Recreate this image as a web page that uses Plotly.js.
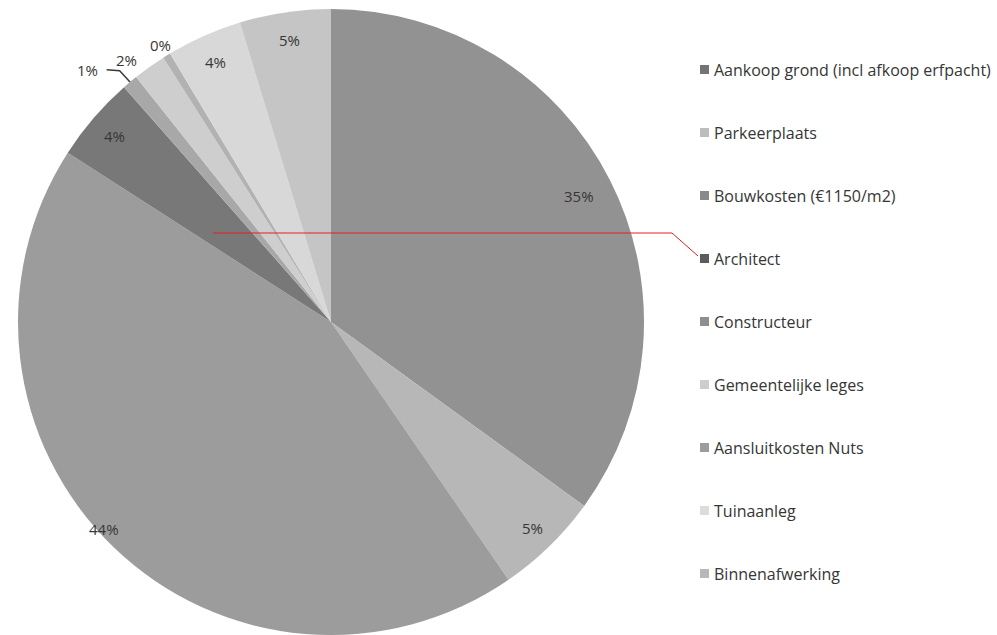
<!DOCTYPE html>
<html><head><meta charset="utf-8">
<script src="https://cdn.plot.ly/plotly-3.0.1.min.js"></script>
<style>html,body{margin:0;padding:0;background:#fff}#chart{width:997px;height:635px}</style>
</head><body><div id="chart"></div>
<script>
// ---- data ----
const categories = ['Aankoop grond (incl afkoop erfpacht)','Parkeerplaats','Bouwkosten (€1150/m2)','Architect','Constructeur','Gemeentelijke leges','Aansluitkosten Nuts','Tuinaanleg','Binnenafwerking'];
const values = [35, 5.4, 43.7, 4.4, 0.8, 1.7, 0.4, 3.9, 4.7];
const sliceColors = ['#929292','#b7b7b7','#9c9c9c','#787878','#a8a8a8','#cecece','#b2b2b2','#d8d8d8','#c5c5c5'];
const legendColors = ['#747474','#bdbdbd','#8a8a8a','#5c5c5c','#8e8e8e','#cdcdcd','#9c9c9c','#dcdcdc','#b8b8b8'];
// label placement (fraction of radius, angle nudge in degrees)
const labelRadius = [0.89, 0.92, 0.98, 0.91, 1.12, 1.06, 1.04, 0.91, 0.91];
const labelAngleOffset = [0, 0, 3.5, 0, -4, -2.5, 0, 0, 0];

// ---- layout geometry ----
const W = 997, H = 635, CX = 331, CY = 322, R = 313;
const px = x => x / W, py = y => 1 - y / H;
const FONT = '"Open Sans", Lato, sans-serif';
const TXT = '#363636';

const total = values.reduce((a, b) => a + b, 0);
let cum = 0;
const annotations = [];
const shapes = [];
values.forEach((v, i) => {
  const mid = (cum + v / 2) / total * 360;
  cum += v;
  const ang = (mid + labelAngleOffset[i]) * Math.PI / 180;
  const lr = labelRadius[i] * R;
  const x = CX + lr * Math.sin(ang), y = CY - lr * Math.cos(ang);
  annotations.push({
    x: px(x), y: py(y), xref: 'paper', yref: 'paper', showarrow: false,
    text: Math.round(v / total * 100) + '%',
    font: {family: FONT, size: 15, color: TXT}, xanchor: 'center', yanchor: 'middle'
  });
  if (labelRadius[i] > 1.08) {
    const m = mid * Math.PI / 180;
    const ex = CX + R * Math.sin(m), ey = CY - R * Math.cos(m);
    shapes.push({type: 'path', xref: 'paper', yref: 'paper',
      path: `M ${px(ex)} ${py(ey)} L ${px(x + 32)} ${py(y + 1)} L ${px(x + 19)} ${py(y)}`,
      line: {color: '#3a3a3a', width: 1.5}});
  }
});

// legend built from categories
categories.forEach((c, i) => {
  const yc = 70 + i * 63;
  shapes.push({type: 'rect', xref: 'paper', yref: 'paper',
    x0: px(700), x1: px(709), y0: py(yc - 5), y1: py(yc + 4),
    fillcolor: legendColors[i], line: {width: 0}});
  annotations.push({x: px(712), y: py(yc), xref: 'paper', yref: 'paper', showarrow: false,
    xanchor: 'left', yanchor: 'middle', text: c,
    font: {family: FONT, size: 16, color: TXT}});
});

// red line artefact
shapes.push({type: 'path', xref: 'paper', yref: 'paper',
  path: `M ${px(213)} ${py(233)} L ${px(672)} ${py(233)} L ${px(698)} ${py(256)}`,
  line: {color: '#e02020', width: 1}});

const trace = {
  type: 'pie', labels: categories, values: values, sort: false,
  direction: 'clockwise', rotation: 0,
  marker: {colors: sliceColors, line: {width: 0}},
  textinfo: 'none', hoverinfo: 'label+percent',
  domain: {x: [px(CX - R), px(CX + R)], y: [py(CY + R), py(CY - R)]},
  showlegend: false
};

Plotly.newPlot('chart', [trace], {
  width: W, height: H, margin: {l: 0, r: 0, t: 0, b: 0},
  paper_bgcolor: '#fff', plot_bgcolor: '#fff',
  showlegend: false, annotations: annotations, shapes: shapes,
  font: {family: FONT}
}, {displayModeBar: false, staticPlot: true});
</script></body></html>
